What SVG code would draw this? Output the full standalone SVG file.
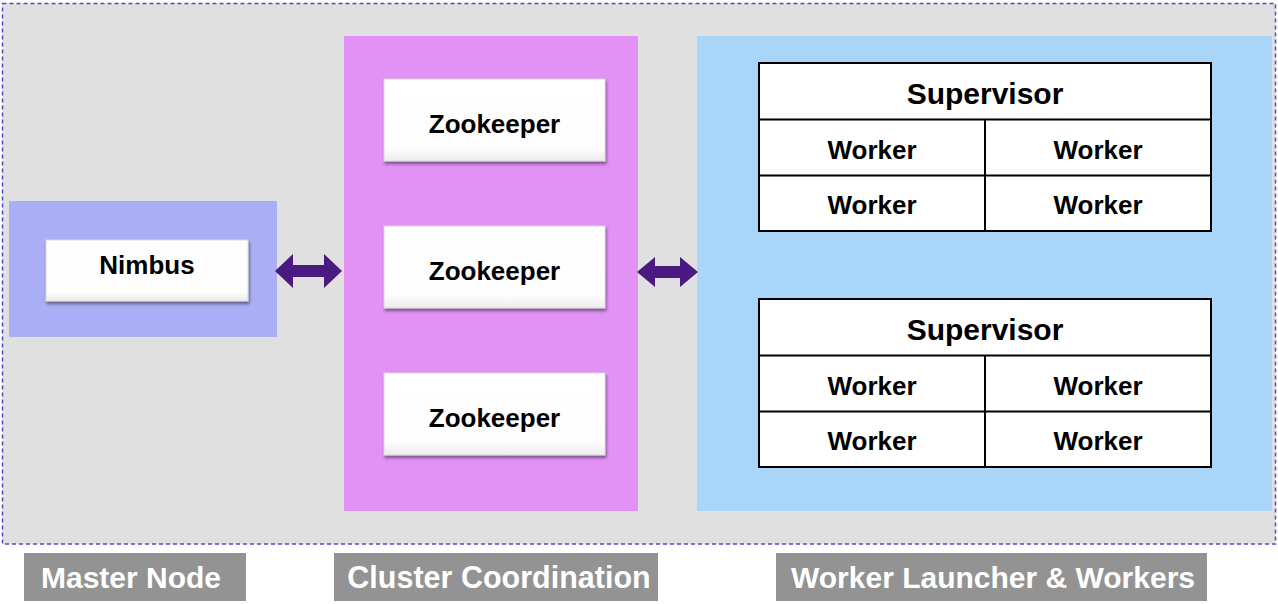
<svg xmlns="http://www.w3.org/2000/svg" width="1278" height="604" viewBox="0 0 1278 604">
<defs>
<filter id="sh" x="-10%" y="-20%" width="125%" height="150%">
<feDropShadow dx="1" dy="2.5" stdDeviation="1.5" flood-color="#000" flood-opacity="0.45"/>
</filter>
<linearGradient id="wg" x1="0" y1="0" x2="0" y2="1">
<stop offset="0" stop-color="#ffffff"/>
<stop offset="0.85" stop-color="#fdfdfd"/>
<stop offset="1" stop-color="#ececec"/>
</linearGradient>
</defs>
<style>
.t{font-family:"Liberation Sans",Arial,sans-serif;font-weight:bold;text-anchor:middle;fill:#000}
.lbl{font-family:"Liberation Sans",Arial,sans-serif;font-weight:bold;text-anchor:middle;fill:#fff;font-size:30px}
.box{fill:url(#wg);stroke:#d8d8d8;stroke-width:1;filter:url(#sh)}
.tbl{fill:#fff;stroke:#000;stroke-width:2}
.ln{stroke:#000;stroke-width:2}
.arr{fill:#4a1a80}
.tag{fill:#939393}
</style>
<rect width="1278" height="604" fill="#ffffff"/>
<rect id="frame" x="2.5" y="3.5" width="1273" height="540.5" fill="#e0e0e0" stroke="#4d4dd0" stroke-width="1.5" stroke-dasharray="4 3"/>

<g id="master-node">
<rect x="9" y="201" width="268" height="136" fill="#aaaff5"/>
<g id="nimbus">
<rect class="box" x="46" y="240" width="202" height="61"/>
<text class="t" x="147" y="274" font-size="26">Nimbus</text>
</g>
</g>

<g id="cluster-coordination">
<rect x="344" y="36" width="294" height="475" fill="#e292f5"/>
<g id="zookeeper-1">
<rect class="box" x="384" y="79" width="221" height="82"/>
<text class="t" x="494.5" y="133" font-size="26">Zookeeper</text>
</g>
<g id="zookeeper-2">
<rect class="box" x="384" y="226" width="221" height="82"/>
<text class="t" x="494.5" y="280" font-size="26">Zookeeper</text>
</g>
<g id="zookeeper-3">
<rect class="box" x="384" y="373" width="221" height="82"/>
<text class="t" x="494.5" y="427" font-size="26">Zookeeper</text>
</g>
</g>

<g id="worker-launcher">
<rect x="697" y="36" width="575" height="475" fill="#a8d5f8"/>
<g id="supervisor-1">
<rect class="tbl" x="759" y="63" width="452" height="168"/>
<line class="ln" x1="759" y1="119.5" x2="1211" y2="119.5"/>
<line class="ln" x1="759" y1="175.5" x2="1211" y2="175.5"/>
<line class="ln" x1="985" y1="119.5" x2="985" y2="231"/>
<text class="t" x="985" y="104" font-size="30">Supervisor</text>
<text class="t" x="872" y="159" font-size="26">Worker</text>
<text class="t" x="1098" y="159" font-size="26">Worker</text>
<text class="t" x="872" y="214" font-size="26">Worker</text>
<text class="t" x="1098" y="214" font-size="26">Worker</text>
</g>
<g id="supervisor-2">
<rect class="tbl" x="759" y="299" width="452" height="168"/>
<line class="ln" x1="759" y1="355.5" x2="1211" y2="355.5"/>
<line class="ln" x1="759" y1="411.5" x2="1211" y2="411.5"/>
<line class="ln" x1="985" y1="355.5" x2="985" y2="467"/>
<text class="t" x="985" y="340" font-size="30">Supervisor</text>
<text class="t" x="872" y="395" font-size="26">Worker</text>
<text class="t" x="1098" y="395" font-size="26">Worker</text>
<text class="t" x="872" y="450" font-size="26">Worker</text>
<text class="t" x="1098" y="450" font-size="26">Worker</text>
</g>
</g>

<g id="connectors">
<path class="arr" d="M275,271 L293,254 L293,265 L324,265 L324,254 L342,271 L324,288 L324,277 L293,277 L293,288 Z"/>
<path class="arr" d="M637,272 L655,257 L655,266 L680,266 L680,257 L698,272 L680,287 L680,278 L655,278 L655,287 Z"/>
</g>

<g id="label-master">
<rect class="tag" x="24" y="553" width="222" height="48"/>
<text class="lbl" x="131" y="588">Master Node</text>
</g>
<g id="label-cluster">
<rect class="tag" x="334" y="553" width="324" height="48"/>
<text class="lbl" x="499" y="588" style="font-size:30.5px">Cluster Coordination</text>
</g>
<g id="label-worker">
<rect class="tag" x="776" y="553" width="431" height="48"/>
<text class="lbl" x="993" y="588">Worker Launcher &amp; Workers</text>
</g>
</svg>
